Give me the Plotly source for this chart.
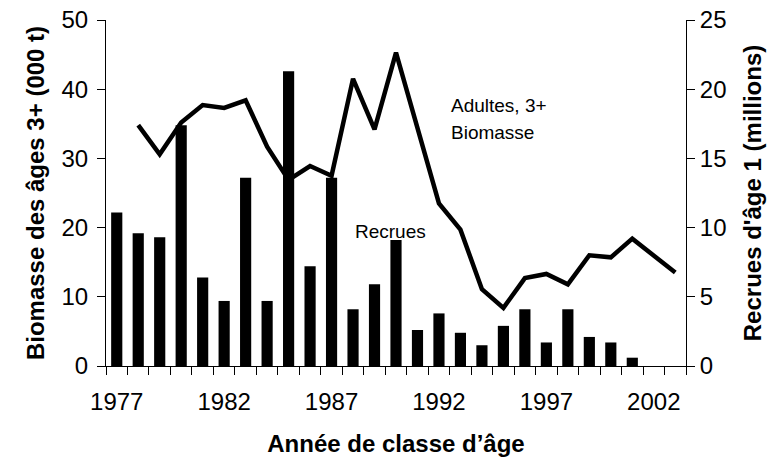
import plotly.graph_objects as go

years = list(range(1977, 2004))

# Recrues d'âge 1 (millions) - barres, axe de droite
recrues = [11.1, 9.6, 9.3, 17.4, 6.4, 4.7, 13.6, 4.7, 21.3, 7.2, 13.6, 4.1, 5.9,
           9.1, 2.6, 3.8, 2.4, 1.5, 2.9, 4.1, 1.7, 4.1, 2.1, 1.7, 0.6, None, None]

# Biomasse des âges 3+ (000 t) - ligne, axe de gauche
biomasse = [None, 34.8, 30.6, 35.2, 37.7, 37.3, 38.4, 31.7, 26.9, 28.9, 27.5, 41.5, 34.2,
            45.3, 34.6, 23.5, 19.7, 11.1, 8.4, 12.7, 13.3, 11.8, 16.0, 15.7, 18.4, 16.0, 13.5]

left_ticks = [0, 10, 20, 30, 40, 50]
right_ticks = [0, 5, 10, 15, 20, 25]
x_labels = [1977, 1982, 1987, 1992, 1997, 2002]

font_family = "Arial, Liberation Sans, sans-serif"

fig = go.Figure()

# Bars on the right axis
fig.add_trace(go.Bar(
    x=years, y=recrues,
    width=0.52,
    marker=dict(color='black', line=dict(width=0)),
    name='Recrues',
    yaxis='y'
))

# Biomass line on the left axis
fig.add_trace(go.Scatter(
    x=years, y=biomasse,
    mode='lines',
    line=dict(color='black', width=4.5),
    name='Biomasse',
    yaxis='y2'
))

fig.update_layout(
    width=778, height=461,
    margin=dict(l=106, r=92, t=20, b=95),
    plot_bgcolor='white',
    paper_bgcolor='white',
    showlegend=False,
    font=dict(family=font_family, size=24, color='black'),
    xaxis=dict(
        automargin=False,
        range=[1976.5, 2003.5],
        tickmode='array',
        tickvals=x_labels,
        ticktext=[str(v) for v in x_labels],
        ticks='',
        ticklabelstandoff=14,
        showline=True, linecolor='black', linewidth=1,
        showgrid=False, zeroline=False,
        minor=dict(tickmode='array', tickvals=[1976.5 + k for k in range(28)],
                   ticks='outside', ticklen=8, tickcolor='black', tickwidth=1,
                   showgrid=False),
        title=dict(text='<b>Année de classe d’âge</b>', font=dict(size=24), standoff=21),
    ),
    yaxis=dict(
        automargin=False,
        side='right',
        range=[0, 25],
        tickvals=right_ticks,
        ticklabeloverflow='allow',
        ticks='outside', ticklen=8, tickcolor='black',
        showline=True, linecolor='black', linewidth=1,
        showgrid=False, zeroline=False,
        title=dict(text="<b>Recrues d'âge 1 (millions)</b>", font=dict(size=24), standoff=18),
    ),
    yaxis2=dict(
        automargin=False,
        side='left',
        overlaying='y',
        range=[0, 50],
        tickvals=left_ticks,
        ticklabeloverflow='allow',
        ticks='outside', ticklen=8, tickcolor='black',
        ticklabelstandoff=4,
        showline=True, linecolor='black', linewidth=1,
        showgrid=False, zeroline=False,
        title=dict(text='<b>Biomasse des âges 3+ (000 t)</b>', font=dict(size=24), standoff=10),
    ),
    annotations=[
        dict(x=1992.47, y=37.6, xref='x', yref='y2', text='Adultes, 3+', showarrow=False,
             xanchor='left', yanchor='middle', font=dict(size=19)),
        dict(x=1992.47, y=33.8, xref='x', yref='y2', text='Biomasse', showarrow=False,
             xanchor='left', yanchor='middle', font=dict(size=19)),
        dict(x=1988.0, y=19.4, xref='x', yref='y2', text='Recrues', showarrow=False,
             xanchor='left', yanchor='middle', font=dict(size=19)),
    ],
)

# drop the default 8px body margin so the figure fills the window
fig.write_html("out.html", config={'displayModeBar': False},
               post_script="document.body.style.margin='0';")
